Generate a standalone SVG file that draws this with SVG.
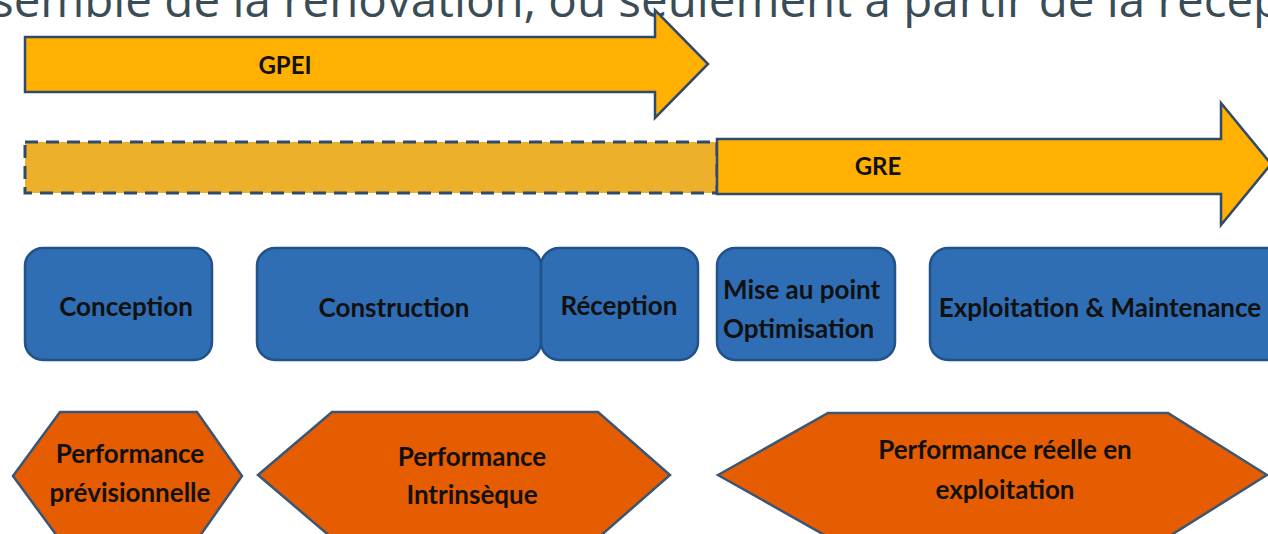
<svg xmlns="http://www.w3.org/2000/svg" width="1268" height="534" viewBox="0 0 1268 534">
<style>
.arrow{fill:#FFB000;stroke:#2F4A6A;stroke-width:2.5;stroke-linejoin:miter}
.dash{fill:#EDB02B;stroke:#2F4A6A;stroke-width:3;stroke-dasharray:13 8}
.box{fill:#2F6DB4;stroke:#22528A;stroke-width:2.5}
.hex{fill:#E65C00;stroke:#3A5675;stroke-width:2.5;stroke-linejoin:miter}
.lbl{font-family:Lato,"Liberation Sans",sans-serif;font-weight:700;font-size:26px;fill:#111111;text-anchor:middle;dominant-baseline:central}
.top{font-family:"Open Sans","Liberation Sans",sans-serif;font-size:47.5px;fill:#3A4C56}
</style>
<rect width="1268" height="534" fill="#FFFFFF"/>
<text class="top" x="-9" y="17">semble de la rénovation, ou seulement à partir de la récep</text>
<g id="gpei">
<path class="arrow" d="M25 37 H655 V10 L708 64 L655 118 V92 H25 Z"/>
<text class="lbl" x="285" y="64" style="font-size:24px">GPEI</text>
</g>
<g id="gpei-dashed">
<rect class="dash" x="25" y="142" width="692" height="51"/>
</g>
<g id="gre">
<path class="arrow" d="M717 139 H1221 V103 L1271 164 L1221 225 V194 H717 Z"/>
<text class="lbl" x="878" y="165" style="font-size:24px">GRE</text>
</g>
<g id="conception">
<rect class="box" x="25" y="248" width="187" height="112" rx="18"/>
<text class="lbl" x="126" y="306">Conception</text>
</g>
<g id="construction">
<rect class="box" x="257" y="248" width="284" height="112" rx="18"/>
<text class="lbl" x="394" y="307">Construction</text>
</g>
<g id="reception">
<rect class="box" x="541" y="248" width="157" height="112" rx="18"/>
<text class="lbl" x="619" y="305">Réception</text>
</g>
<g id="mise-au-point">
<rect class="box" x="717" y="248" width="178" height="112" rx="18"/>
<text class="lbl" x="723" y="289" style="text-anchor:start">Mise au point</text>
<text class="lbl" x="723" y="328" style="text-anchor:start">Optimisation</text>
</g>
<g id="exploitation">
<rect class="box" x="930" y="248" width="360" height="112" rx="18"/>
<text class="lbl" x="1100" y="307">Exploitation &amp; Maintenance</text>
</g>
<g id="perf-previsionnelle">
<path class="hex" d="M13 476 L60 412 H197 L242 476 L197 540 H60 Z"/>
<text class="lbl" x="130" y="453">Performance</text>
<text class="lbl" x="130" y="492">prévisionnelle</text>
</g>
<g id="perf-intrinseque">
<path class="hex" d="M258 475 L332 412 H598 L670 475 L598 538 H332 Z"/>
<text class="lbl" x="472" y="456">Performance</text>
<text class="lbl" x="472" y="494">Intrinsèque</text>
</g>
<g id="perf-reelle">
<path class="hex" d="M718 475 L828 413 H1168 L1267 475 L1168 537 H828 Z"/>
<text class="lbl" x="1005" y="449">Performance réelle en</text>
<text class="lbl" x="1005" y="489">exploitation</text>
</g>
<g id="connectors"></g>
</svg>
